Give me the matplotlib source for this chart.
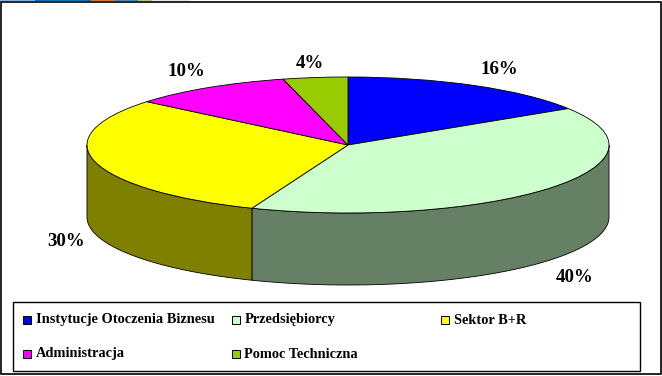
import numpy as np
import matplotlib
matplotlib.use("Agg")
import matplotlib.pyplot as plt
from matplotlib.patches import Rectangle

W, H = 662, 376
CX, CY, RX, RY, DEPTH = 348, 145, 261, 68, 72

labels = ["Instytucje Otoczenia Biznesu", "Przedsiębiorcy", "Sektor B+R",
          "Administracja", "Pomoc Techniczna"]
values = [16, 40, 30, 10, 4]
colors = ["#0000ff", "#ccffcc", "#ffff00", "#ff00ff", "#99cc00"]
wall_colors = ["#000080", "#668066", "#808000", "#800080", "#4d6600"]

plt.rcParams["font.family"] = ["Liberation Serif", "DejaVu Serif"]
plt.rcParams["font.weight"] = "bold"

fig = plt.figure(figsize=(W / 100, H / 100), dpi=100, facecolor="white")

# pie axes: one data unit is RX px across and RY px down
ax = fig.add_axes([0, 0, 1, 1])
ax.pie(values, colors=colors, startangle=90, counterclock=False, radius=1,
       wedgeprops={"edgecolor": "black", "linewidth": 0.6, "zorder": 3})
ax.set_aspect("auto")
ax.set_xlim(-CX / RX, (W - CX) / RX)
ax.set_ylim((CY - H) / RY, CY / RY)
drop = DEPTH / RY

# side walls, only the front half of the rim shows
edges = np.concatenate([[0], np.cumsum(values)]) / sum(values) * 360
for start, end, col in zip(edges[:-1], edges[1:], wall_colors):
    a0, a1 = max(start, 90), min(end, 270)
    if a1 <= a0:
        continue
    t = np.radians(np.linspace(a0, a1, 120))
    x, y = np.sin(t), np.cos(t)
    ax.fill(np.r_[x, x[::-1]], np.r_[y, y[::-1] - drop], facecolor=col,
            edgecolor="black", linewidth=0.6, zorder=2)

# overlay in pixel coordinates for frame, labels and legend
px = fig.add_axes([0, 0, 1, 1], facecolor="none")
px.set_xlim(0, W)
px.set_ylim(H, 0)
px.axis("off")

# sliver of the slide banner left at the very top
for x0, x1, col in [(0, 35, "#7fb2dc"), (35, 91, "#0a6fb5"), (91, 115, "#d9763a"),
                    (115, 138, "#3f8fc4"), (138, 152, "#a9c77a"), (152, 190, "#dbe8f2")]:
    px.add_patch(Rectangle((x0, 0), x1 - x0, 1, facecolor=col, edgecolor="none"))

px.add_patch(Rectangle((0.5, 1.5), 660.5, 372.5, fill=False, edgecolor="black", linewidth=1.2))
px.add_patch(Rectangle((12.5, 301.5), 627, 69.5, fill=False, edgecolor="black", linewidth=1.0))

pct_pos = [(499, 70), (575, 277), (66, 241), (186, 72), (310, 63)]
for v, (x, y) in zip(values, pct_pos):
    px.text(x, y, f"{v}%", ha="center", va="center", fontsize=13.6, color="black")

legend_pos = [(22.5, 320), (231.5, 320), (440.5, 320), (22.5, 354), (231.5, 354)]
for name, col, (x, y) in zip(labels, colors, legend_pos):
    px.add_patch(Rectangle((x, y - 4), 8, 8, facecolor=col, edgecolor="black", linewidth=0.7))
    px.text(x + 13, y, name, ha="left", va="center", fontsize=10.4, color="black")

fig.savefig("out.png", dpi=100)
